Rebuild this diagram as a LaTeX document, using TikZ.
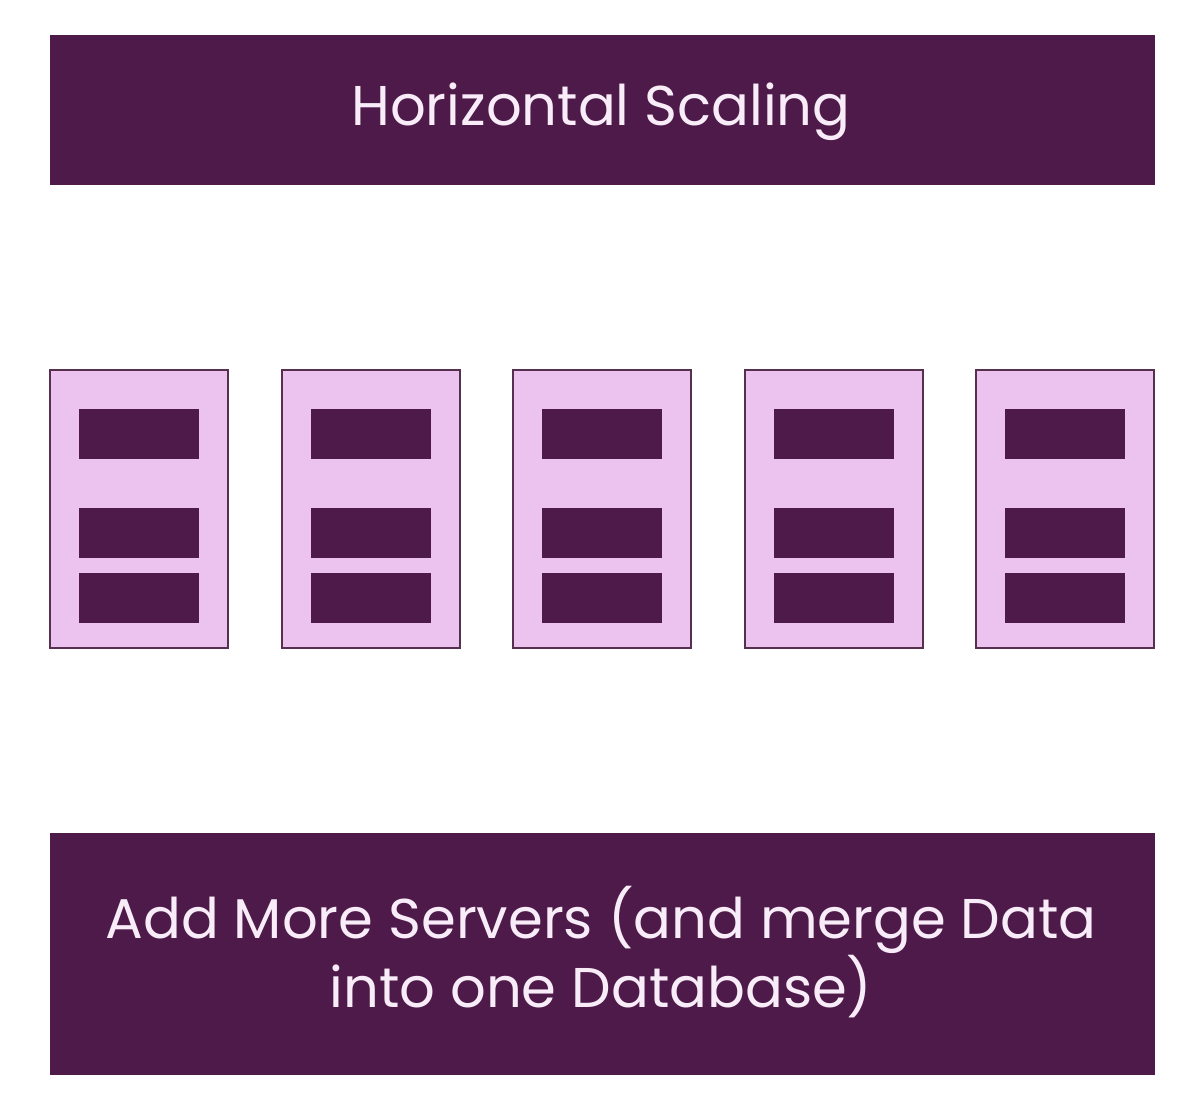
\documentclass[tikz,border=0pt]{standalone}
\usepackage{fontspec}
\setmainfont{Poppins}
\definecolor{dpurple}{HTML}{4E1A4A}
\definecolor{lav}{HTML}{EBC3EE}
\definecolor{edgep}{HTML}{573050}
\definecolor{txtw}{HTML}{F8ECF8}
\begin{document}
\begin{tikzpicture}[x=1pt,y=-1pt,
  banner/.style={fill=dpurple,draw=none,text=txtw,inner sep=0pt,align=center,font=\fontsize{56}{62}\selectfont},
  server/.style={fill=lav,draw=edgep,line width=2.5pt},
  bar/.style={fill=dpurple,draw=none}]
\useasboundingbox[fill=white] (0,0) rectangle (1200,1110);
\path[banner] (50,35) rectangle (1155,185);
\node[banner,fill=none] (title) at (601,112) {Horizontal Scaling};
\foreach \x/\n in {50/1,282/2,513/3,745/4,976/5}{
  \draw[server] (\x,370) rectangle ++(178,278);
  \coordinate (s\n) at (\x+89,509);
  \fill[bar] (\x+29,409) rectangle ++(120,50);
  \fill[bar] (\x+29,508) rectangle ++(120,50);
  \fill[bar] (\x+29,573) rectangle ++(120,50);
}
\path[banner] (50,833) rectangle (1155,1075);
\node[banner,fill=none] (foot) at (601,952) {Add More Servers (and merge Data\\into one Database)};
\end{tikzpicture}
\end{document}
